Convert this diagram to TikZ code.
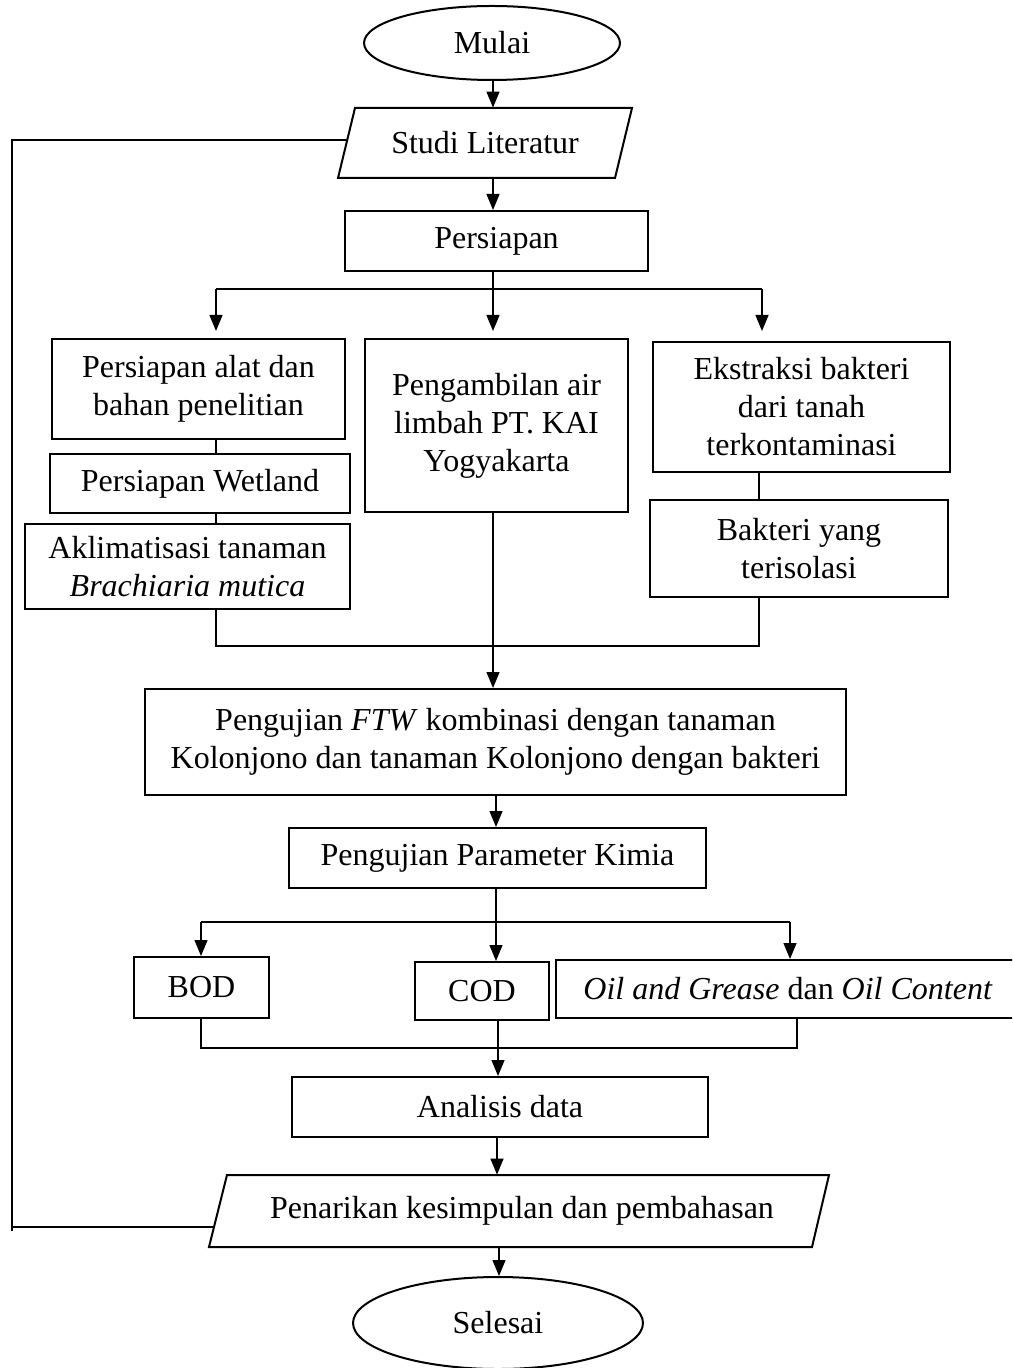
\documentclass[tikz,border=0pt]{standalone}
\usepackage{fontspec}
\setmainfont{Liberation Serif}
\usetikzlibrary{shapes.geometric,arrows.meta,calc}
\newcommand{\diagfont}{\fontsize{16pt}{19pt}\selectfont}
\begin{document}
\begin{tikzpicture}[x=0.5pt,y=-0.5pt,
  bx/.style={draw,line width=1pt,rectangle,inner sep=0pt,align=center,font=\diagfont},
  txt/.style={inner sep=0pt,align=center,font=\diagfont,minimum width=100pt},
  ell/.style={draw,line width=1pt,ellipse,inner sep=0pt,font=\diagfont},
  pgram/.style={line width=1pt,line join=miter},
  ln/.style={line width=0.65pt},
  arr/.style={line width=0.65pt,-{Triangle[length=8pt,width=6.5pt]}}]
\useasboundingbox (0,0) rectangle (1012,1368);
\clip (0,0) rectangle (1012,1368);
\fill[white] (0,0) rectangle (1012,1368);

% ---------- nodes ----------
\node[ell,minimum width=128pt,minimum height=37pt] (mulai) at (492,43) {Mulai};

\draw[pgram] (338,178) -- (615,178) -- (632,108) -- (355,108) -- cycle;
\node[txt,minimum height=35pt] (studi) at (485,143) {Studi Literatur};

\node[bx,minimum width=151.5pt,minimum height=30pt] (persiapan) at (496.5,241) {Persiapan};

\node[bx,minimum width=146.5pt,minimum height=50pt] (alat) at (198.5,389) {Persiapan alat dan\\bahan penelitian};
\node[bx,minimum width=150pt,minimum height=29.5pt] (wetland) at (200,483.5) {Persiapan Wetland};
\node[bx,minimum width=162.5pt,minimum height=42.5pt] (akli) at (187.5,566.5) {Aklimatisasi tanaman\\\textit{Brachiaria mutica}};

\node[bx,minimum width=131.5pt,minimum height=86.5pt] (ambil) at (496.5,425.5) {Pengambilan air\\limbah PT. KAI\\Yogyakarta};

\node[bx,minimum width=148.5pt,minimum height=65pt] (ekstr) at (801.5,407) {Ekstraksi bakteri\\dari tanah\\terkontaminasi};
\node[bx,minimum width=149pt,minimum height=48.5pt] (bakteri) at (799,548.5) {Bakteri yang\\terisolasi};

\node[bx,minimum width=350.5pt,minimum height=53pt] (ftw) at (495.5,742) {Pengujian \textit{FTW} kombinasi dengan tanaman\\Kolonjono dan tanaman Kolonjono dengan bakteri};

\node[bx,minimum width=208.5pt,minimum height=30pt] (param) at (497.5,858) {Pengujian Parameter Kimia};

\node[bx,minimum width=67.5pt,minimum height=30.5pt] (bod) at (201.5,987.5) {BOD};
\node[bx,minimum width=67pt,minimum height=29pt] (cod) at (482,991) {COD};
\node[bx,minimum width=232pt,minimum height=29pt] (oil) at (788,989) {\textit{Oil and Grease} dan \textit{Oil Content}};

\node[bx,minimum width=208pt,minimum height=30pt] (analisis) at (500,1107) {Analisis data};

\draw[pgram] (209,1247) -- (812,1247) -- (829,1175) -- (227,1175) -- cycle;
\node[txt,minimum height=36pt] (penarikan) at (522,1211) {Penarikan kesimpulan dan pembahasan};

\node[ell,minimum width=145pt,minimum height=46pt] (selesai) at (498,1323) {Selesai};

% ---------- helper coordinates ----------
\coordinate (cA) at (493,0);
\coordinate (cB) at (496,0);
\coordinate (cC) at (498,0);
\coordinate (cD) at (497,0);
\coordinate (cE) at (499,0);
\coordinate (lx) at (216,0);
\coordinate (rx) at (759,0);
\coordinate (bA) at (493,289);
\coordinate (bL) at (216,289);
\coordinate (bR) at (762,289);
\coordinate (tL) at (216,331);
\coordinate (tM) at (493,331);
\coordinate (tR) at (762,331);
\coordinate (mL) at (216,646);
\coordinate (mR) at (759,646);
\coordinate (pA) at (496,922);
\coordinate (pL) at (201,922);
\coordinate (pR) at (790,922);
\coordinate (qL) at (201,1048);
\coordinate (qR) at (797,1048);
\coordinate (fbA) at (347,140);
\coordinate (fbB) at (214,1227);
\coordinate (fbT) at (12,140);
\coordinate (fbM) at (12,1227);
\coordinate (fbE) at (12,1231);

% ---------- connectors ----------
\draw[arr] (mulai.south -| cA) -- (studi.north -| cA);
\draw[arr] (studi.south -| cA) -- (persiapan.north -| cA);

\draw[ln] (persiapan.south -| cA) -- (bA);
\draw[ln] (bL) -- (bR);
\draw[arr] (bL) -- (tL);
\draw[arr] (bA) -- (tM);
\draw[arr] (bR) -- (tR);

\draw[ln] (alat.south -| lx) -- (wetland.north -| lx);
\draw[ln] (wetland.south -| lx) -- (akli.north -| lx);
\draw[ln] (ekstr.south -| rx) -- (bakteri.north -| rx);

\draw[ln] (akli.south -| lx) -- (mL) -- (mR) -- (bakteri.south -| rx);
\draw[arr] (ambil.south -| cA) -- (ftw.north -| cA);

\draw[arr] (ftw.south -| cB) -- (param.north -| cB);

\draw[ln] (param.south -| cB) -- (pA);
\draw[ln] (pL) -- (pR);
\draw[arr] (pL) -- (bod.north -| pL);
\draw[arr] (pA) -- (cod.north -| pA);
\draw[arr] (pR) -- (oil.north -| pR);

\draw[ln] (bod.south -| qL) -- (qL) -- (qR) -- (oil.south -| qR);
\draw[arr] (cod.south -| cC) -- (analisis.north -| cC);

\draw[arr] (analisis.south -| cD) -- (penarikan.north -| cD);
\draw[arr] (penarikan.south -| cE) -- (selesai.north -| cE);

\draw[ln] (fbA) -- (fbT) -- (fbE);
\draw[ln] (fbB) -- (fbM);
\end{tikzpicture}
\end{document}
